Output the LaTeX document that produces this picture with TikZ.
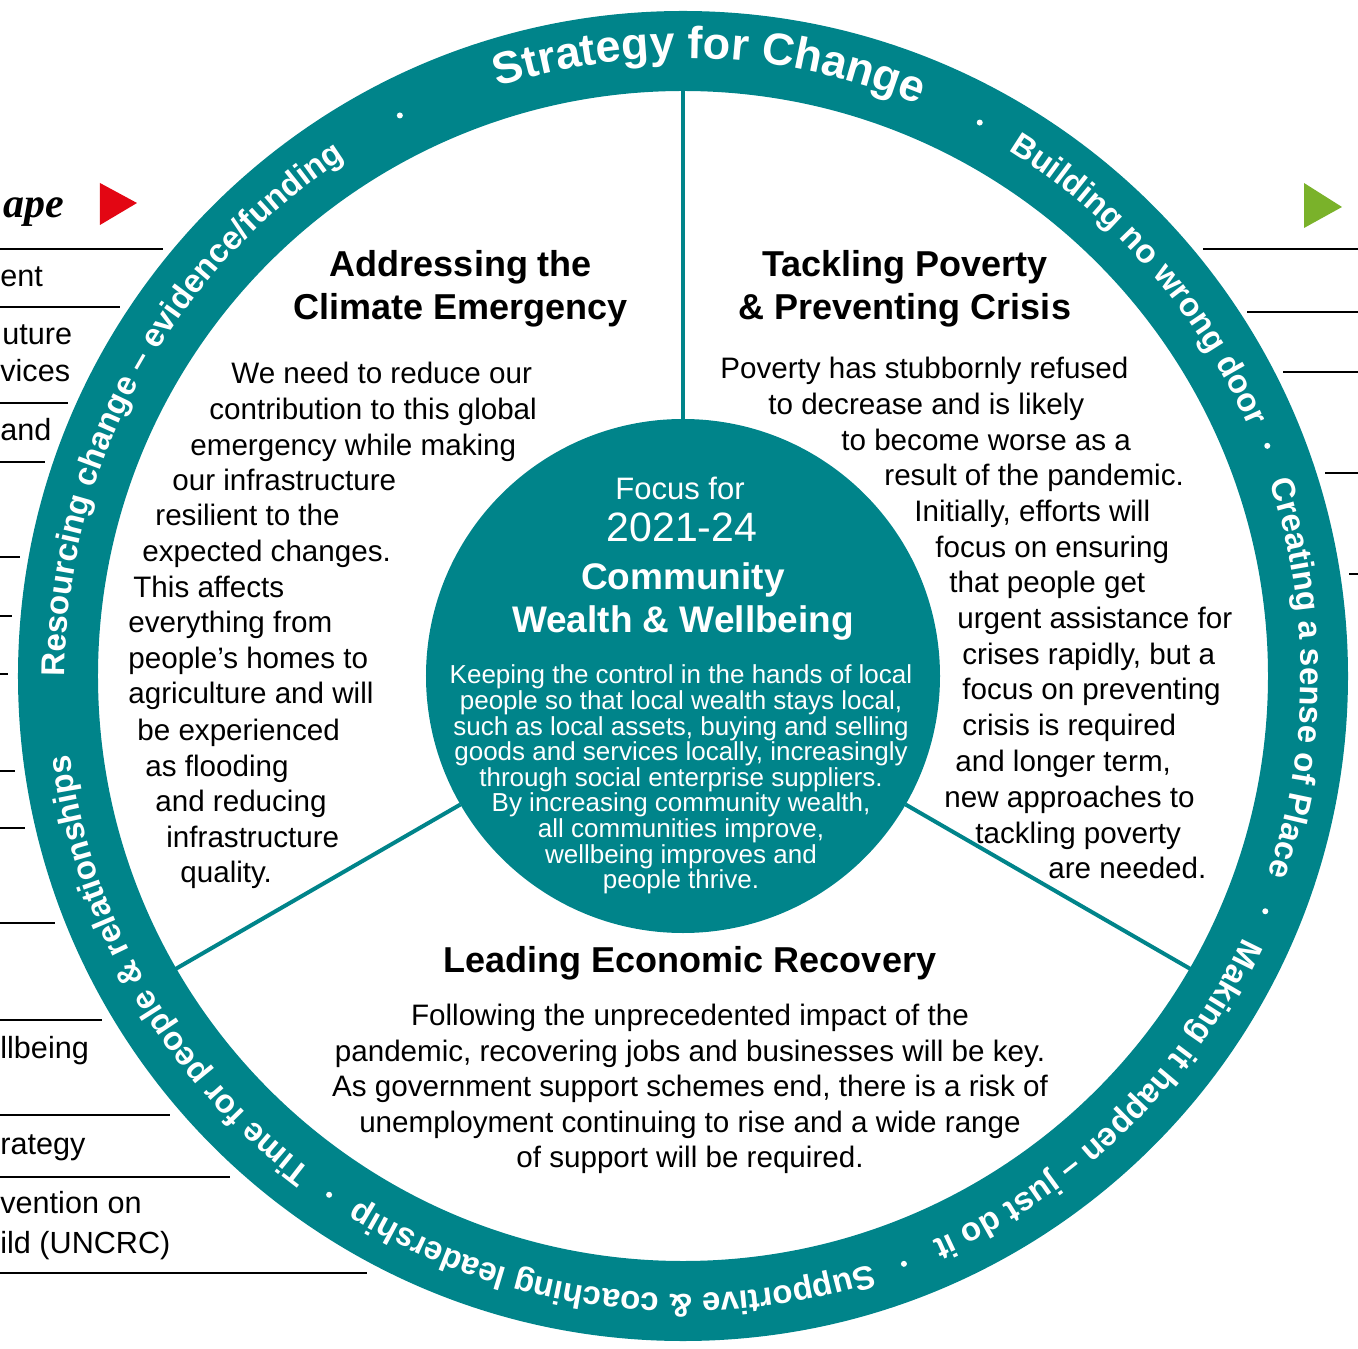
\documentclass[tikz,border=0pt]{standalone}
\usepackage{fontspec}
\setmainfont{Liberation Sans}
\newfontfamily\scriptfnt{Liberation Serif}
\usetikzlibrary{decorations.text}

\definecolor{ringteal}{RGB}{0,132,138}
\definecolor{arrowred}{RGB}{227,6,19}
\definecolor{arrowgreen}{RGB}{122,178,42}

\newcommand\ringfont{\bfseries\fontsize{16.5}{18}\selectfont}
\newcommand\titlefont{\bfseries\fontsize{22.5}{24}\selectfont}
% text set along the ring, clockwise, centred on angle #1
\newcommand\ringlabel[4]{%
  \path[decorate, decoration={text along path, text align=center, text color=white, text={|#3|#4}}]
    ({#1+#2}:618) arc[start angle={#1+#2}, end angle={#1-#2}, radius=618];}

\begin{document}
\begin{tikzpicture}[x=0.5pt,y=0.5pt,
  bodyline/.style={font=\fontsize{14.8}{17.75}\selectfont, text=black, inner sep=0pt, anchor=base west},
  sideline/.style={font=\fontsize{15.3}{20}\selectfont, text=black, inner sep=0pt, anchor=base west},
  heading/.style={font=\bfseries\fontsize{18}{21.5}\selectfont, text=black, align=center, inner sep=0pt},
  bodyblock/.style={font=\fontsize{14.8}{17.75}\selectfont, text=black, align=center, inner sep=0pt},
  hubtext/.style={text=white, align=center, inner sep=0pt},
  rule/.style={line width=1.25pt, black},
  spoke/.style={draw=ringteal, line width=2pt},
  ringdot/.style={fill=white}
]
\useasboundingbox (-683,-672) rectangle (675,676);

% rules of the neighbouring panels
\foreach \yy/\xe in {427/-520, 369/-563, 273/-615, 214/-638, 119/-663, 60/-671, 2/-675,
  -95/-668, -152/-658, -247/-628, -344/-581, -439/-513, -501/-453, -597/-316}
  \draw[rule] (-683,\yy) -- (\xe,\yy);
\foreach \yy/\xs in {427/520, 364/564, 304/600, 203/642, 102/666}
  \draw[rule] (\xs,\yy) -- (675,\yy);

% neighbouring panel texts
\node[inner sep=0pt, anchor=base west, font=\scriptfnt\bfseries\itshape\fontsize{21}{24}\selectfont] (scape) at (-680,458) {ape};
\fill[arrowred] (-583,493) -- (-583,451) -- (-546,473) -- cycle;
\fill[arrowgreen] (621,493) -- (621,448) -- (659,469) -- cycle;
\node[sideline] (p1) at (-683,389) {ent};
\node[sideline] (p2) at (-681,331) {uture};
\node[sideline] (p3) at (-683,294) {vices};
\node[sideline] (p4) at (-683,235) {and};
\node[sideline] (p5) at (-683,-382) {llbeing};
\node[sideline] (p6) at (-683,-478) {rategy};
\node[sideline] (p7) at (-683,-537) {vention on};
\node[sideline] (p8) at (-683,-577) {ild (UNCRC)};

% outer ring
\fill[ringteal, even odd rule] (0,0) circle[radius=665] (0,0) circle[radius=585];

% centre disc and spokes
\node[circle, fill=ringteal, minimum size=257pt, inner sep=0pt, outer sep=0pt] (hub) at (0,0) {};
\coordinate (sA) at (90:588);
\coordinate (sB) at (210:588);
\coordinate (sC) at (330:588);
\draw[spoke] (hub.90) -- (sA);
\draw[spoke] (hub.210) -- (sB);
\draw[spoke] (hub.330) -- (sC);

% ring labels
\ringlabel{87.5}{35}{\titlefont}{Strategy for Change}
\ringlabel{41}{30}{\ringfont}{Building no wrong door}
\ringlabel{-0.2}{30}{\ringfont}{Creating a sense of Place}
\ringlabel{-45.6}{32}{\ringfont}{Making it happen – just do it}
\ringlabel{-97}{35}{\ringfont}{Supportive {\&} coaching leadership}
\ringlabel{-149.8}{35}{\ringfont}{Time for people {\&} relationships}
\ringlabel{151.6}{40}{\ringfont}{Resourcing change – evidence/funding}
\foreach \a [count=\i] in {116.8, 61.8, 21.5, -22, -69.4, -124.3, 176.5}
  \fill[ringdot] (\a:628) circle[radius=3];

% centre texts
\node[hubtext, font=\fontsize{15.5}{18}\selectfont] (focus) at (-3,188) {Focus for};
\node[hubtext, font=\fontsize{20.5}{22}\selectfont] (years) at (-1,149) {2021-24};
\node[hubtext, font=\bfseries\fontsize{18.5}{21.5}\selectfont] (cww) at (0,74.5) {Community\\Wealth \& Wellbeing};
\node[hubtext, font=\fontsize{13}{12.8}\selectfont] (cwwtext) at (-2,-103.5) {Keeping the control in the hands of local\\
people so that local wealth stays local,\\
such as local assets, buying and selling\\
goods and services locally, increasingly\\
through social enterprise suppliers.\\
By increasing community wealth,\\
all communities improve,\\
wellbeing improves and\\
people thrive.};

% climate sector
\node[heading] (climh) at (-222,387.5) {Addressing the\\Climate Emergency};
\foreach \xx/\yy/\txt [count=\i] in {-452/292/{We need to reduce our}, -474/256/{contribution to this global},
  -493/220/{emergency while making}, -511/185/{our infrastructure}, -528/150/{resilient to the},
  -541/114/{expected changes.}, -550/78/{This affects}, -555/43/{everything from},
  -555/7/{people’s homes to}, -555/-28/{agriculture and will}, -546/-64/{be experienced},
  -538/-100/{as flooding}, -528/-135/{and reducing}, -517/-171/{infrastructure}, -503/-206/{quality.}}
  \node[bodyline] (cl\i) at (\xx,\yy) {\txt};

% poverty sector
\node[heading] (povh) at (222,387.5) {Tackling Poverty\\\& Preventing Crisis};
\foreach \xx/\yy/\txt [count=\i] in {37/297/{Poverty has stubbornly refused}, 85/261/{to decrease and is likely},
  158/225/{to become worse as a}, 201/190/{result of the pandemic.}, 231/154/{Initially, efforts will},
  252/118/{focus on ensuring}, 266/83/{that people get}, 274/47/{urgent assistance for},
  279/11/{crises rapidly, but a}, 279/-24/{focus on preventing}, 279/-60/{crisis is required},
  272/-95/{and longer term,}, 261/-131/{new approaches to}, 292/-167/{tackling poverty},
  365/-202/{are needed.}}
  \node[bodyline] (pv\i) at (\xx,\yy) {\txt};

% economy sector
\node[heading] (ecoh) at (7,-287) {Leading Economic Recovery};
\node[bodyblock] (ecotext) at (7,-413) {Following the unprecedented impact of the\\
pandemic, recovering jobs and businesses will be key.\\
As government support schemes end, there is a risk of\\
unemployment continuing to rise and a wide range\\
of support will be required.};
\end{tikzpicture}
\end{document}
